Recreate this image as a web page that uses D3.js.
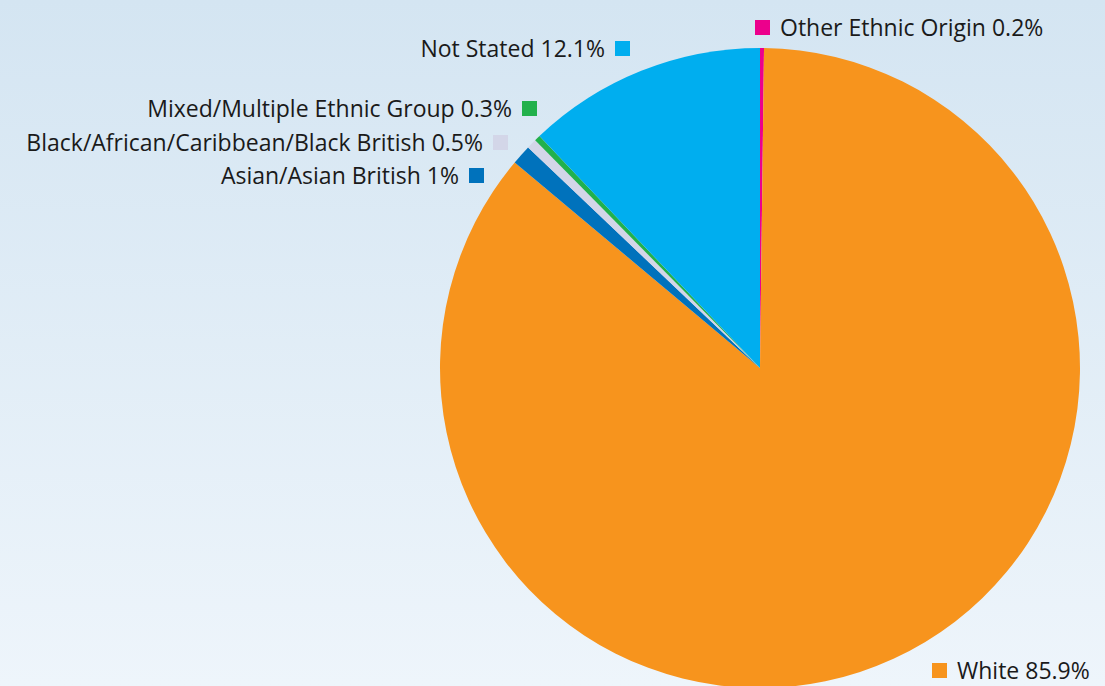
<!DOCTYPE html>
<html>
<head>
<meta charset="utf-8">
<script src="https://cdn.jsdelivr.net/npm/d3@7"></script>
<style>
  html, body { margin: 0; padding: 0; }
  body { width: 1105px; height: 686px; overflow: hidden; }
</style>
</head>
<body>
<script>
// slices in clockwise order from 12 o'clock
let groups = ["Other Ethnic Origin", "White", "Asian/Asian British", "Black/African/Caribbean/Black British",
    "Mixed/Multiple Ethnic Group", "Not Stated"];
let shares = [0.2, 85.9, 1, 0.5, 0.3, 12.1];
let shareLabels = ["0.2%", "85.9%", "1%", "0.5%", "0.3%", "12.1%"];
let colors = ["#ec008c", "#f7941d", "#0072bc", "#d3d6e8", "#22b14c", "#00aeef"];

let svgWidth = 1105,
    svgHeight = 686,
    center = {x: 760, y: 368},
    radius = 320;

// label placement: square anchor x,y and which side the text sits on
let labelLayout = [
    {x: 755, y: 20, side: "right"},
    {x: 932, y: 663, side: "right"},
    {x: 469, y: 168, side: "left"},
    {x: 493, y: 135, side: "left"},
    {x: 522, y: 101, side: "left"},
    {x: 615, y: 41, side: "left"}
];

let svg = d3.select("body").append("svg")
    .attr("width", svgWidth)
    .attr("height", svgHeight);

let defs = svg.append("defs");
let grad = defs.append("linearGradient")
    .attr("id", "bg")
    .attr("x1", 0).attr("y1", 0).attr("x2", 0).attr("y2", 1);
grad.append("stop").attr("offset", "0%").attr("stop-color", "#d4e5f2");
grad.append("stop").attr("offset", "100%").attr("stop-color", "#eef5fb");

svg.append("rect")
    .attr("width", svgWidth)
    .attr("height", svgHeight)
    .attr("fill", "url(#bg)");

let data = groups.map((g, i) => ({name: g, value: shares[i], label: shareLabels[i], color: colors[i]}));

let pie = d3.pie().sort(null).value(d => d.value);
let arc = d3.arc().innerRadius(0).outerRadius(radius);

let g = svg.append("g").attr("transform", "translate(" + center.x + "," + center.y + ")");

g.selectAll("path")
    .data(pie(data))
    .enter().append("path")
    .attr("d", arc)
    .attr("fill", d => d.data.color);

let sq = 15;
let labels = svg.append("g")
    .style("font-family", "'Open Sans', sans-serif")
    .style("font-size", "23px")
    .attr("fill", "#1a1a1a");

data.forEach((d, i) => {
    let pos = labelLayout[i];
    labels.append("rect")
        .attr("x", pos.x).attr("y", pos.y)
        .attr("width", sq).attr("height", sq)
        .attr("fill", d.color);
    labels.append("text")
        .attr("x", pos.side === "right" ? pos.x + sq + 10 : pos.x - 10)
        .attr("y", pos.y + sq / 2)
        .attr("dy", "0.36em")
        .attr("text-anchor", pos.side === "right" ? "start" : "end")
        .text(d.name + " " + d.label);
});
</script>
</body>
</html>
